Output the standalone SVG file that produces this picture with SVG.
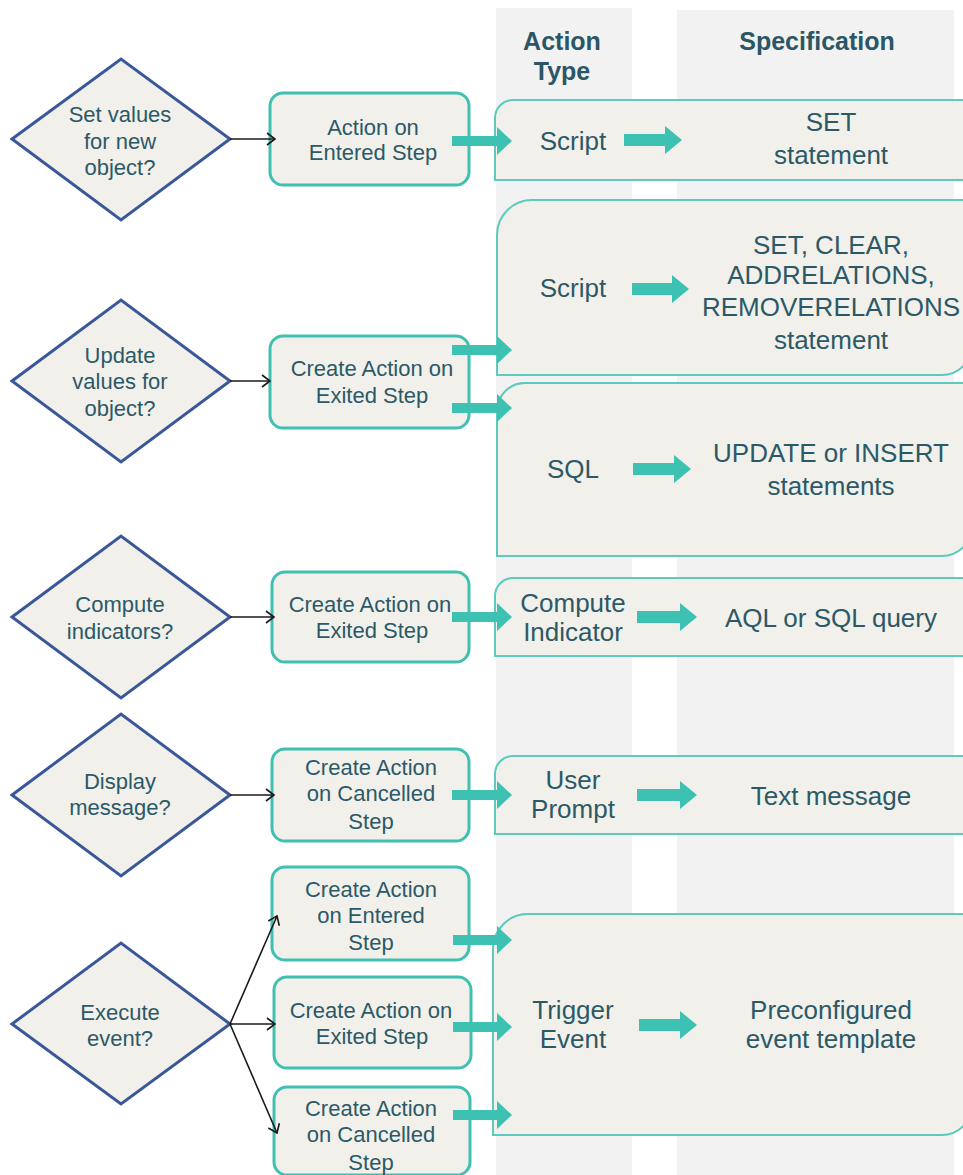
<svg xmlns="http://www.w3.org/2000/svg" width="963" height="1175" viewBox="0 0 963 1175">
<style>
text{font-family:"Liberation Sans",Arial,sans-serif;fill:#2c5968;text-anchor:middle;dominant-baseline:central}
.hd{font-size:25px;font-weight:bold;fill:#2b5666}
.dt{font-size:22px}
.bt{font-size:22px}
.pt{font-size:26px}
.col{fill:#f2f2f2}
.dia{fill:#f1f0ea;stroke:#3a579a;stroke-width:3}
.box{fill:#f1f0ea;stroke:#3fc0b2;stroke-width:3}
.pan{fill:#f1f0ea;stroke:#5ccabd;stroke-width:2}
.ba{fill:#3dc1b3}
.con{stroke:#1a1a1a;stroke-width:1.6;fill:none;marker-end:url(#open)}
</style>
<defs>
<marker id="open" viewBox="0 0 10 14" refX="9" refY="7" markerWidth="10" markerHeight="14" markerUnits="userSpaceOnUse" orient="auto">
<path d="M1,1 L9,7 L1,13" fill="none" stroke="#1a1a1a" stroke-width="1.6"/>
</marker>
</defs>
<rect width="963" height="1175" fill="#ffffff"/>
<g id="columns">
<rect class="col" x="496" y="8" width="136" height="1167"/>
<rect class="col" x="677" y="10" width="277" height="1165"/>
<text class="hd" x="562" y="41">Action</text>
<text class="hd" x="562" y="71">Type</text>
<text class="hd" x="817" y="41">Specification</text>
</g>
<g id="panel1">
<path class="pan" d="M495,180 V118 A18,18 0 0 1 513,100 H975 V180 Z"/>
<text class="pt" x="573" y="141">Script</text>
<text class="pt" x="831" y="122">SET</text>
<text class="pt" x="831" y="155">statement</text>
<polygon class="ba" points="624,134 665,134 665,126 682,140 665,154 665,146 624,146"/>
</g>
<g id="panel2">
<path class="pan" d="M497,375 V235 A35,35 0 0 1 532,200 H972 V345 A30,30 0 0 1 942,375 Z"/>
<text class="pt" x="573" y="288">Script</text>
<text class="pt" x="831" y="245">SET, CLEAR,</text>
<text class="pt" x="831" y="275">ADDRELATIONS,</text>
<text class="pt" x="831" y="307">REMOVERELATIONS</text>
<text class="pt" x="831" y="340">statement</text>
<polygon class="ba" points="632,283 672,283 672,275 689,289 672,303 672,295 632,295"/>
</g>
<g id="panel3">
<path class="pan" d="M497,556 V411 A28,28 0 0 1 525,383 H972 V526 A30,30 0 0 1 942,556 Z"/>
<text class="pt" x="573" y="469">SQL</text>
<text class="pt" x="831" y="453">UPDATE or INSERT</text>
<text class="pt" x="831" y="486">statements</text>
<polygon class="ba" points="633,463 674,463 674,455 691,469 674,483 674,475 633,475"/>
</g>
<g id="panel4">
<path class="pan" d="M495,656 V596 A18,18 0 0 1 513,578 H975 V656 Z"/>
<text class="pt" x="573" y="603">Compute</text>
<text class="pt" x="573" y="632">Indicator</text>
<text class="pt" x="831" y="618">AQL or SQL query</text>
<polygon class="ba" points="637,611 680,611 680,603 697,617 680,631 680,623 637,623"/>
</g>
<g id="panel5">
<path class="pan" d="M495,834 V774 A18,18 0 0 1 513,756 H975 V834 Z"/>
<text class="pt" x="573" y="780">User</text>
<text class="pt" x="573" y="809">Prompt</text>
<text class="pt" x="831" y="796">Text message</text>
<polygon class="ba" points="637,789 680,789 680,781 697,795 680,809 680,801 637,801"/>
</g>
<g id="panel6">
<path class="pan" d="M493,1135 V949 A35,35 0 0 1 528,914 H972 V1105 A30,30 0 0 1 942,1135 Z"/>
<text class="pt" x="573" y="1010">Trigger</text>
<text class="pt" x="573" y="1039">Event</text>
<text class="pt" x="831" y="1010">Preconfigured</text>
<text class="pt" x="831" y="1039">event template</text>
<polygon class="ba" points="639,1019 680,1019 680,1011 697,1025 680,1039 680,1031 639,1031"/>
</g>
<g id="d1">
<polygon class="dia" points="12,139 121,59 230,139 121,220"/>
<text class="dt" x="120" y="114">Set values</text>
<text class="dt" x="120" y="141">for new</text>
<text class="dt" x="120" y="167">object?</text>
</g>
<g id="d2">
<polygon class="dia" points="12,381 121,300 230,381 121,462"/>
<text class="dt" x="120" y="355">Update</text>
<text class="dt" x="120" y="381">values for</text>
<text class="dt" x="120" y="408">object?</text>
</g>
<g id="d3">
<polygon class="dia" points="12,617 121,536 230,617 121,698"/>
<text class="dt" x="120" y="604">Compute</text>
<text class="dt" x="120" y="631">indicators?</text>
</g>
<g id="d4">
<polygon class="dia" points="12,795 121,714 230,795 121,876"/>
<text class="dt" x="120" y="781">Display</text>
<text class="dt" x="120" y="807">message?</text>
</g>
<g id="d5">
<polygon class="dia" points="12,1024 121,943 230,1024 121,1104"/>
<text class="dt" x="120" y="1012">Execute</text>
<text class="dt" x="120" y="1038">event?</text>
</g>
<g id="b1">
<rect class="box" x="270" y="93" width="199" height="92" rx="13"/>
<text class="bt" x="373" y="127">Action on</text>
<text class="bt" x="373" y="152">Entered Step</text>
</g>
<g id="b2">
<rect class="box" x="270" y="336" width="199" height="92" rx="13"/>
<text class="bt" x="372" y="368">Create Action on</text>
<text class="bt" x="372" y="395">Exited Step</text>
</g>
<g id="b3">
<rect class="box" x="272" y="572" width="197" height="90" rx="13"/>
<text class="bt" x="370" y="604">Create Action on</text>
<text class="bt" x="372" y="630">Exited Step</text>
</g>
<g id="b4">
<rect class="box" x="272" y="749" width="197" height="92" rx="13"/>
<text class="bt" x="371" y="767">Create Action</text>
<text class="bt" x="371" y="793">on Cancelled</text>
<text class="bt" x="371" y="821">Step</text>
</g>
<g id="b5">
<rect class="box" x="272" y="867" width="197" height="93" rx="13"/>
<text class="bt" x="371" y="889">Create Action</text>
<text class="bt" x="371" y="915">on Entered</text>
<text class="bt" x="371" y="942">Step</text>
</g>
<g id="b6">
<rect class="box" x="274" y="977" width="197" height="91" rx="13"/>
<text class="bt" x="371" y="1010">Create Action on</text>
<text class="bt" x="372" y="1036">Exited Step</text>
</g>
<g id="b7">
<rect class="box" x="274" y="1087" width="196" height="88" rx="13"/>
<text class="bt" x="371" y="1108">Create Action</text>
<text class="bt" x="371" y="1134">on Cancelled</text>
<text class="bt" x="371" y="1162">Step</text>
</g>
<g id="connectors">
<line class="con" x1="230" y1="139" x2="275" y2="139"/>
<line class="con" x1="230" y1="381" x2="270" y2="381"/>
<line class="con" x1="230" y1="617" x2="274" y2="617"/>
<line class="con" x1="230" y1="795" x2="274" y2="795"/>
<line class="con" x1="230" y1="1024" x2="277" y2="916"/>
<line class="con" x1="230" y1="1024" x2="275" y2="1024"/>
<line class="con" x1="230" y1="1024" x2="277" y2="1133"/>
<polygon class="ba" points="452,136 497,136 497,127 512,141 497,155 497,146 452,146"/>
<polygon class="ba" points="452,345 497,345 497,336 512,350 497,364 497,355 452,355"/>
<polygon class="ba" points="452,403 497,403 497,394 512,408 497,422 497,413 452,413"/>
<polygon class="ba" points="452,612 497,612 497,603 512,617 497,631 497,622 452,622"/>
<polygon class="ba" points="452,790 497,790 497,781 512,795 497,809 497,800 452,800"/>
<polygon class="ba" points="453,935 497,935 497,926 512,940 497,954 497,945 453,945"/>
<polygon class="ba" points="453,1022 497,1022 497,1013 512,1027 497,1041 497,1032 453,1032"/>
<polygon class="ba" points="453,1110 497,1110 497,1101 512,1115 497,1129 497,1120 453,1120"/>
</g>
</svg>
